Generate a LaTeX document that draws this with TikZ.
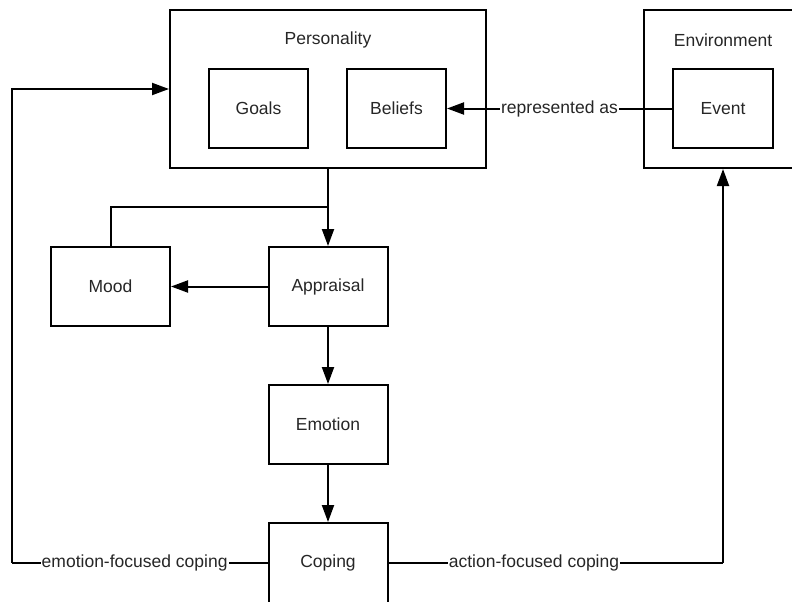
\documentclass[tikz,border=0pt]{standalone}
\usepackage{fontspec}
\setmainfont{Liberation Sans}
\usetikzlibrary{arrows.meta,positioning}
\begin{document}
\begin{tikzpicture}[x=1pt,y=-1pt,
  font=\fontsize{17.5}{21}\selectfont,
  box/.style={draw,line width=2pt,rectangle,minimum width=119pt,minimum height=79pt,inner sep=0pt,text=black!85},
  frame/.style={draw,line width=2pt,rectangle,minimum width=316pt,minimum height=158pt,inner sep=0pt},
  title/.style={inner sep=0pt,text=black!85},
  link/.style={line width=2pt},
  flow/.style={line width=2pt,-{Triangle[length=17pt,width=12pt]}},
  tag/.style={fill=white,inner sep=1pt,text=black!85}]
\useasboundingbox (0,0) rectangle (792,602);
% container boxes
\node[frame] (per) at (328,89) {};
\node[title] (pertitle) at (328,40) {Personality};
\node[frame,minimum width=158pt] (env) at (723,89) {};
\node[title] (envtitle) at (723,40) {Environment};
% inner boxes
\node[box,minimum width=99pt] (goals) at (258.5,108.5) {Goals};
\node[box,minimum width=99pt] (bel) at (396.5,108.5) {Beliefs};
\node[box,minimum width=100pt] (ev) at (723,108.5) {Event};
% process chain
\node[box] (mood) at (110.5,286.5) {Mood};
\node[box] (app) at (328,286.5) {Appraisal};
\node[box] (emo) at (328,424.5) {Emotion};
\node[box,minimum height=83pt] (cop) at (328,564.5) {};
\node[title] (coptext) at (328,562.5) {Coping};
% bend points
\coordinate (split) at (328,207);
\coordinate (efc) at (12,562.5);
\coordinate (afc) at (723,562.5);
% connectors
\draw[flow] (ev.west) -- node[tag]{represented as} (bel.east);
\draw[flow] (per.south) -- (app.north);
\draw[link] (split) -| (mood.north);
\draw[flow] (app.west) -- (mood.east);
\draw[flow] (app.south) -- (emo.north);
\draw[flow] (emo.south) -- (cop.north);
\draw[link] (cop.west |- efc) -- node[tag,pos=0.52]{emotion-focused coping} (efc);
\draw[flow] (efc) |- (per.west);
\draw[link] (cop.east |- afc) -- node[tag,pos=0.435]{action-focused coping} (afc);
\draw[flow] (afc) -- (env.south);
\end{tikzpicture}
\end{document}
